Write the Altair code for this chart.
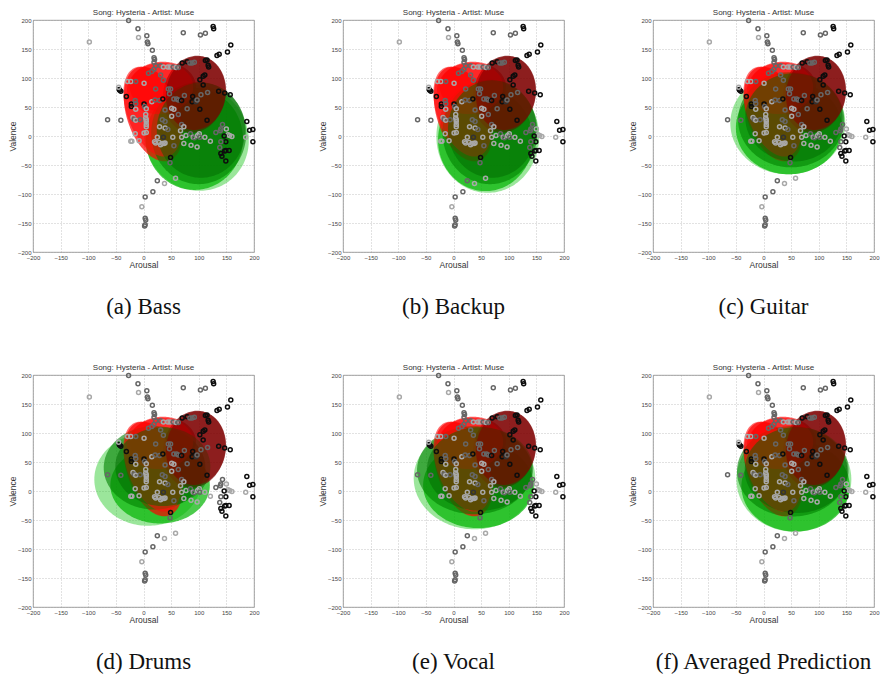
import altair as alt
import numpy as np
import pandas as pd

TITLE = "Song: Hysteria - Artist: Muse"
CAPTIONS = ["(a) Bass", "(b) Backup", "(c) Guitar", "(d) Drums", "(e) Vocal", "(f) Averaged Prediction"]
TICKS = [-200, -150, -100, -50, 0, 50, 100, 150, 200]

# ---- annotation points (same in every panel) ----
arousal = [-27, -10, -9, 6, 7, 8, -98, 72, 103, 112, 126, 127, 16, 19, 20, 152, 158, 133, 137,
           19, 22, 31, 36, 44, 48, 54, 59, 63, 70, 79, 84, 88, 92, 112, 115, 117, 118, 111, 108, 102, 15, 19, 9, 22, 31, 36,
           -44, -43, -41, -45, -65, -41, -31, -29, -23, -14, -22, -22, -15, -14, -14, -19, -17, -14, -6, -15, -23, -21, -8,
           1, 2, 5, 1, 4, 4, 5, 5, 5, 5, 1, 5, 15, 21, 29, 35, 45, 49, 47, 55, 51, 55, 39,
           60, 63, 69, 74, 79, 89, 88, 95, 97, 102, 104, 116, 108, 115, 136, 147, 157,
           63, 69, 73, 67, 51, 34, 39, 29, 39, 44, 25, 20, 22, 28, 31, 34, 37, 39, 36, 53, 55, 49, 48, 25, 38, 58, 17, 3, -3, 3, 4, 3, 2,
           69, 77, 73, 85, 90, 92, 86, 98, 101, 97, 102, 111, 121, 131, 139, 140, 143, 150, 153, 156, 160, 146, 149, 140, 138,
           140, 142, 147, 149, 155, 149, 187, 192, 198, 198, 185]
valence = [199, 185, 170, 173, 162, 159, 162, 178, 174, 177, 189, 185, 148, 135, 132, 145, 157, 139, 141,
           127, 121, 121, 119, 119, 119, 119, 118, 118, 126, 128, 126, 126, 127, 130, 131, 122, 119, 105, 103, 97, 111, 115, 108, 81, 105, 96,
           80, 79, 77, 84, 28, 27, 68, 94, 94, 94, 55, 51, 61, 56, 46, 32, 29, 27, 28, 4, -9, -9, -8,
           55, 51, 47, 91, 37, 31, 28, 25, 20, 16, 5, 6, 59, 62, 61, 64, 81, 81, 73, 64, 48, 46, 45,
           64, 62, 61, 70, 47, 68, 59, 59, 62, 46, 71, 75, 88, 27, 77, 74, 71,
           37, 20, 16, 9, 34, 28, 25, 16, 14, 11, -2, -10, -12, -11, -15, -13, -13, -12, -2, -2, -17, -37, -46, -77, -82, -73, -96, -105, -122, -142, -145, -153, -155,
           -2, 1, -13, 4, -2, -3, -16, 1, 4, -19, -2, -2, -9, 6, 9, 12, 20, 12, 2, 1, -1, 0, -10, -10, -20,
           -30, -35, -26, -25, -25, -43, 25, 10, 11, -10, -2]
# k = black, d = dark grey, g = grey, l = light grey
shade = list("".join([
    "gglggglgggkkgggkkkk",
    "ggglllglg", "kk", "ggg", "kkkk", "kkk", "gggggg",
    "kkklggkllgkkggllglgllll",
    "kg", "lllllllllll", "ggk", "gggg", "llg",
    "ggkggkkdgkggkkkkk",
    "gglll", "ggllg", "lllll", "llldl", "gkggl", "lggl", "g", "ggg",
    "lllgl", "gllll", "gllgg", "gglll", "lkkgg", "kkkkk", "kkkkk", "l",
]))

SHADE_COL = {"k": "#0d0d0d", "d": "#333333", "g": "#666666", "l": "#a8a8a8"}

# ---- ground-truth (red) ellipses, same in every panel ----
red_cx = [18, 35, 30, 16, 92, 95]
red_cy = [38, 85, 82, 42, 72, 74]
red_a = [85, 60, 60, 82, 67, 64]
red_b = [48, 43, 44, 45, 56, 54]
red_ang = [-70, 0, 5, -67, 75, 78]
red_col = ["#ff0000", "#ff0000", "#ff0000", "#ff0808", "#780000", "#800000"]
red_op = [0.7, 0.65, 0.55, 0.6, 0.7, 0.6]
red_rank = [3, 4, 7, 7.5, 6, 9]

# ---- predicted (green) ellipses per panel: halo, bright, dark1, dark2 ----
green_col = ["#22c822", "#00b400", "#008000", "#006a00"]
green_op = [0.45, 0.7, 0.6, 0.5]
green_rank = [1, 2, 5, 8]
green_cx = {"a": [96, 92, 100, 104], "b": [62, 58, 66, 70], "c": [44, 46, 50, 55],
            "d": [8, 30, 20, 35], "e": [38, 45, 38, 48], "f": [55, 58, 52, 60]}
green_cy = {"a": [-3, -5, 5, 10], "b": [-1, -7, 7, 12], "c": [22, 14, 28, 32],
            "d": [20, 10, 40, 42], "e": [22, 10, 36, 38], "f": [20, 8, 34, 36]}
green_a = {"a": [96, 88, 86, 80], "b": [93, 86, 86, 80], "c": [104, 96, 96, 88],
           "d": [97, 90, 92, 86], "e": [110, 100, 104, 96], "f": [104, 98, 100, 94]}
green_b = {"a": [90, 88, 88, 82], "b": [97, 88, 90, 84], "c": [88, 80, 82, 76],
           "d": [80, 66, 72, 68], "e": [88, 74, 76, 72], "f": [90, 78, 78, 74]}
green_ang = {"a": [-30, 0, 0, 0], "b": [0, 0, 0, 0], "c": [0, 0, 0, 0],
             "d": [0, 0, 0, 0], "e": [0, 0, 0, 0], "f": [0, 0, 0, 0]}
PANELS = ["a", "b", "c", "d", "e", "f"]


def ellipse_band(cx, cy, a, b, ang, n=90):
    th = np.radians(ang)
    c, s = np.cos(th), np.sin(th)
    w = np.sqrt(a * a * c * c + b * b * s * s)
    t = np.linspace(0, np.pi, n)
    dx = -w * np.cos(t)
    A = s * s / (a * a) + c * c / (b * b)
    B = 2 * dx * s * c * (1 / (a * a) - 1 / (b * b))
    C = dx * dx * (c * c / (a * a) + s * s / (b * b)) - 1
    disc = np.sqrt(np.clip(B * B - 4 * A * C, 0, None))
    return cx + dx, cy + (-B + disc) / (2 * A), cy + (-B - disc) / (2 * A)


rows = []
for p in PANELS:
    ells = []
    for i in range(len(red_cx)):
        ells.append((red_rank[i], red_cx[i], red_cy[i], red_a[i], red_b[i], red_ang[i], red_col[i], red_op[i]))
    for i in range(4):
        ells.append((green_rank[i], green_cx[p][i], green_cy[p][i], green_a[p][i], green_b[p][i],
                     green_ang[p][i], green_col[i], green_op[i]))
    ells.sort(key=lambda e: e[0])
    for k, e in enumerate(ells):
        xs, y1, y2 = ellipse_band(*e[1:6])
        for xv, a1, a2 in zip(xs, y1, y2):
            rows.append({"panel": p, "key": f"{p}{k:02d}", "x": round(float(xv), 2),
                         "y": round(float(a1), 2), "y2": round(float(a2), 2), "col": e[6], "op": e[7]})
area_df = pd.DataFrame(rows)

pts_df = pd.DataFrame({"x": arousal, "y": valence, "col": [SHADE_COL[s] for s in shade]})

W, H = 221, 232
FONT = "Liberation Sans"
xscale = alt.Scale(domain=[-200, 200], nice=False, zero=False)
yscale = alt.Scale(domain=[-200, 200], nice=False, zero=False)
xaxis = alt.Axis(values=TICKS, title="Arousal", labelOverlap=False, labelFlush=False, grid=True)
yaxis = alt.Axis(values=TICKS, title="Valence", labelOverlap=False, labelFlush=False, grid=True)


def panel(p, cap):
    area = alt.Chart(area_df).transform_filter(alt.datum.panel == p).mark_area(strokeWidth=0).encode(
        x=alt.X("x:Q", scale=xscale, axis=xaxis),
        y=alt.Y("y:Q", scale=yscale, axis=yaxis),
        y2="y2:Q",
        detail="key:N",
        color=alt.Color("col:N", scale=None),
        opacity=alt.Opacity("op:Q", scale=None),
    )
    pts = alt.Chart(pts_df).mark_point(shape="circle", filled=False, size=16, strokeWidth=1.5, opacity=1).encode(
        x=alt.X("x:Q", scale=xscale, axis=xaxis),
        y=alt.Y("y:Q", scale=yscale, axis=yaxis),
        color=alt.Color("col:N", scale=None),
    )
    ttl = alt.Chart(pd.DataFrame({"t": [TITLE]})).mark_text(
        font=FONT, fontSize=8, align="center", baseline="middle", color="#333"
    ).encode(text="t:N", x=alt.value(W / 2), y=alt.value(-7))
    txt = alt.Chart(pd.DataFrame({"t": [cap]})).mark_text(
        font="Liberation Serif", fontSize=23, align="center", baseline="middle", color="#111"
    ).encode(text="t:N", x=alt.value(W / 2), y=alt.value(H + 55))
    return alt.layer(area, pts, ttl, txt).properties(width=W, height=H)


charts = [panel(p, c) for p, c in zip(PANELS, CAPTIONS)]
row1 = alt.hconcat(*charts[:3], spacing=58)
row2 = alt.hconcat(*charts[3:], spacing=58)
chart = alt.vconcat(row1, row2, spacing=43).properties(padding=0).configure_view(
    stroke="#8a8a8a", strokeWidth=0.8
).configure_axis(
    labelFont=FONT, labelFontSize=6, labelColor="#444", labelPadding=2,
    titleFont=FONT, titleFontSize=8.5, titleColor="#333", titleFontWeight="normal", titlePadding=0,
    gridColor="#a0a0a0", gridDash=[1, 2], gridWidth=0.6, domain=False, ticks=False,
)
chart.save("out.html", embed_options={"renderer": "svg", "actions": False})
